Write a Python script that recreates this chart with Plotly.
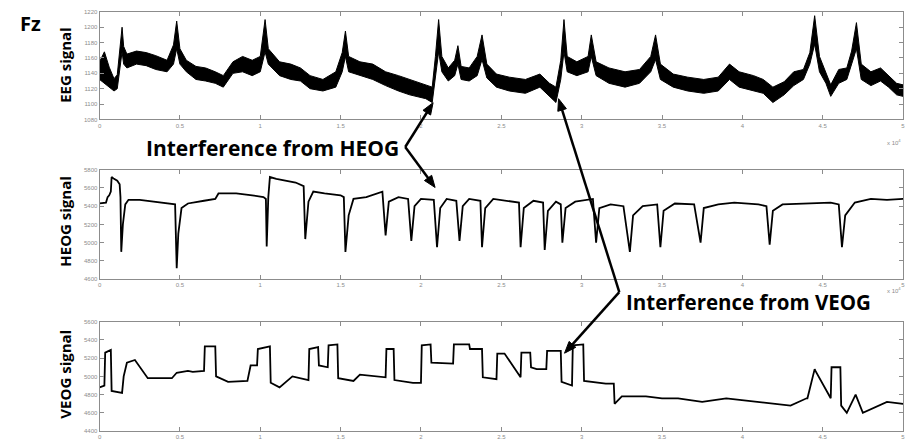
import math
import plotly.graph_objects as go

# ---------------- data (x in units of 1e4 samples) ----------------
eeg_x = [0.00,0.03,0.06,0.09,0.11,0.13,0.14,0.15,0.17,0.23,0.29,0.35,0.42,0.46,0.48,0.50,0.54,0.60,0.66,0.72,0.77,0.83,0.89,0.95,1.00,1.03,1.05,1.12,1.19,1.25,1.31,1.39,1.47,1.51,1.53,1.55,1.62,1.70,1.78,1.86,1.93,2.03,2.07,2.09,2.11,2.13,2.17,2.21,2.23,2.25,2.30,2.35,2.38,2.41,2.47,2.55,2.65,2.74,2.80,2.84,2.87,2.89,2.91,2.97,3.04,3.06,3.09,3.17,3.27,3.36,3.43,3.46,3.49,3.57,3.66,3.76,3.85,3.92,3.98,4.07,4.13,4.19,4.26,4.32,4.38,4.42,4.45,4.48,4.52,4.55,4.60,4.65,4.68,4.71,4.74,4.80,4.86,4.91,4.96,5.00]
eeg_lo = [1132,1127,1122,1117,1120,1152,1168,1152,1147,1152,1150,1145,1142,1152,1172,1152,1142,1132,1130,1127,1122,1140,1142,1137,1142,1168,1152,1137,1132,1130,1120,1117,1122,1142,1162,1142,1137,1132,1124,1117,1112,1107,1102,1132,1168,1142,1130,1137,1152,1132,1130,1137,1158,1134,1122,1117,1114,1122,1110,1102,1132,1168,1142,1137,1142,1162,1137,1127,1122,1127,1142,1158,1132,1122,1117,1114,1117,1132,1122,1117,1114,1102,1112,1124,1132,1152,1178,1142,1127,1110,1127,1132,1152,1172,1132,1124,1130,1122,1112,1110]
eeg_hi = [1155,1168,1148,1133,1138,1183,1200,1175,1165,1169,1167,1163,1157,1177,1208,1172,1157,1149,1147,1142,1137,1155,1162,1157,1162,1210,1172,1155,1152,1147,1137,1132,1142,1167,1195,1162,1155,1152,1142,1137,1132,1125,1122,1162,1210,1162,1147,1157,1176,1149,1147,1162,1190,1152,1139,1135,1132,1139,1127,1122,1157,1210,1162,1155,1162,1190,1155,1147,1142,1145,1162,1190,1152,1139,1135,1132,1135,1152,1142,1137,1132,1122,1129,1142,1145,1167,1215,1162,1142,1125,1145,1147,1169,1206,1152,1142,1147,1137,1127,1125]

heog_x = [0.00,0.04,0.05,0.06,0.07,0.075,0.09,0.11,0.125,0.13,0.135,0.145,0.16,0.18,0.25,0.35,0.45,0.47,0.48,0.49,0.51,0.55,0.65,0.72,0.74,0.85,0.95,1.02,1.035,1.04,1.05,1.06,1.10,1.18,1.22,1.27,1.28,1.30,1.33,1.40,1.50,1.52,1.53,1.55,1.58,1.66,1.73,1.76,1.78,1.80,1.86,1.92,1.94,1.96,2.00,2.08,2.10,2.12,2.16,2.22,2.24,2.26,2.30,2.37,2.38,2.40,2.45,2.52,2.61,2.62,2.64,2.70,2.76,2.77,2.79,2.84,2.87,2.88,2.90,2.96,3.05,3.07,3.09,3.11,3.18,3.26,3.30,3.32,3.38,3.47,3.49,3.51,3.58,3.70,3.74,3.76,3.85,3.95,4.10,4.15,4.17,4.19,4.25,4.40,4.55,4.60,4.62,4.64,4.70,4.80,4.90,5.00]
heog_y = [5430,5440,5500,5520,5560,5720,5700,5680,5640,5500,4900,5200,5420,5470,5470,5450,5430,5420,4720,5100,5380,5430,5460,5480,5540,5540,5520,5500,5480,4960,5500,5720,5700,5670,5660,5620,5040,5450,5560,5540,5520,5500,4900,5300,5480,5500,5540,5560,5080,5450,5500,5480,5020,5400,5480,5470,4950,5380,5480,5460,5020,5400,5480,5460,4950,5380,5480,5460,5440,4950,5380,5460,5440,4920,5350,5450,5420,5000,5380,5450,5480,5480,5000,5380,5420,5400,4900,5300,5400,5420,4950,5350,5430,5420,5000,5380,5420,5440,5420,5400,4980,5350,5420,5430,5440,5420,4950,5300,5440,5480,5470,5480]

veog_x = [0.00,0.03,0.035,0.07,0.075,0.14,0.15,0.17,0.22,0.25,0.28,0.30,0.45,0.48,0.55,0.58,0.65,0.655,0.72,0.725,0.80,0.92,0.94,0.98,0.985,1.06,1.065,1.12,1.20,1.30,1.305,1.36,1.365,1.42,1.425,1.48,1.485,1.58,1.62,1.72,1.78,1.785,1.83,1.835,1.95,2.00,2.005,2.06,2.065,2.20,2.205,2.30,2.305,2.38,2.385,2.47,2.475,2.52,2.62,2.625,2.68,2.685,2.72,2.78,2.785,2.87,2.875,2.94,2.945,3.01,3.015,3.15,3.20,3.205,3.25,3.40,3.50,3.60,3.75,3.90,4.05,4.20,4.30,4.40,4.405,4.45,4.455,4.55,4.555,4.61,4.615,4.65,4.70,4.705,4.75,4.90,5.00]
veog_y = [4880,4900,5260,5290,4840,4820,5000,5150,5180,5100,5020,4980,4980,5040,5060,5050,5060,5330,5330,5000,4940,4950,5120,5120,5300,5330,4930,4880,5000,4960,5300,5320,5120,5100,5340,5350,4980,4950,5020,5000,4990,5300,5300,4960,4930,4930,5340,5350,5150,5140,5350,5350,5300,5300,4990,4970,5250,5250,4990,5260,5260,5100,5080,5080,5280,5280,4940,4900,5340,5350,4950,4920,4920,4700,4780,4780,4760,4760,4720,4760,4730,4700,4680,4760,4760,5080,5060,4760,5100,5100,4680,4600,4780,4800,4600,4720,4700,4680]

tick_vals = [0, 0.5, 1, 1.5, 2, 2.5, 3, 3.5, 4, 4.5, 5]
tick_text = ["0", "0.5", "1", "1.5", "2", "2.5", "3", "3.5", "4", "4.5", "5"]
eeg_ticks = [1080, 1100, 1120, 1140, 1160, 1180, 1200, 1220]
heog_ticks = [4600, 4800, 5000, 5200, 5400, 5600, 5800]
veog_ticks = [4400, 4600, 4800, 5000, 5200, 5400, 5600]

fig = go.Figure()
fig.add_trace(go.Scatter(x=eeg_x, y=eeg_lo, mode="lines", line=dict(color="black", width=1),
                         xaxis="x", yaxis="y", hoverinfo="skip", showlegend=False))
fig.add_trace(go.Scatter(x=eeg_x, y=eeg_hi, mode="lines", line=dict(color="black", width=1),
                         fill="tonexty", fillcolor="black",
                         xaxis="x", yaxis="y", hoverinfo="skip", showlegend=False))
fig.add_trace(go.Scatter(x=heog_x, y=heog_y, mode="lines", line=dict(color="black", width=1.8),
                         xaxis="x2", yaxis="y2", showlegend=False))
fig.add_trace(go.Scatter(x=veog_x, y=veog_y, mode="lines", line=dict(color="black", width=1.8),
                         xaxis="x3", yaxis="y3", showlegend=False))

W, H = 914, 445
xdom = [98 / W, 905 / W]
def ydom(top, bot):
    return [1 - bot / H, 1 - top / H]

axis_common = dict(showline=True, linecolor="#8c8c8c", linewidth=1, mirror="ticks",
                   ticks="inside", ticklen=4, tickcolor="#8c8c8c", showgrid=False,
                   zeroline=False, tickfont=dict(size=6, color="#8c8c8c", family="Arial"))

layout = dict(width=W, height=H, margin=dict(l=0, r=0, t=0, b=0),
              paper_bgcolor="white", plot_bgcolor="white", showlegend=False)
for i, (top, bot, yt, rng) in enumerate([(9, 118, eeg_ticks, [1080, 1220]),
                                         (169, 280, heog_ticks, [4600, 5800]),
                                         (323, 434, veog_ticks, [4400, 5600])]):
    sx = "" if i == 0 else str(i + 1)
    layout["xaxis" + sx] = dict(domain=xdom, range=[0, 5], tickvals=tick_vals, ticktext=tick_text,
                                anchor="y" + sx, **axis_common)
    layout["yaxis" + sx] = dict(domain=ydom(top, bot), range=rng, tickvals=yt,
                                anchor="x" + sx, **axis_common)
fig.update_layout(**layout)

bold = dict(family="Open Sans", color="black")
ann = []
ann.append(dict(text="<b>Fz</b>", x=29 / W, y=1 - 21 / H, font=dict(size=20, **bold)))
for txt, px, py in [("EEG signal", 63, 63), ("HEOG signal", 63, 221), ("VEOG signal", 63, 376)]:
    ann.append(dict(text="<b>%s</b>" % txt, x=px / W, y=1 - py / H, textangle=-90,
                    font=dict(size=15, **bold)))
ann.append(dict(text="<b>Interference from HEOG</b>", x=272 / W, y=1 - 147 / H, font=dict(size=21, **bold)))
ann.append(dict(text="<b>Interference from VEOG</b>", x=750 / W, y=1 - 303 / H, font=dict(size=20.5, **bold)))
for py in (141, 291):
    ann.append(dict(text="x 10<sup>4</sup>", x=896 / W, y=1 - py / H,
                    font=dict(size=6, color="#8c8c8c", family="Arial")))
for a in ann:
    a.update(xref="paper", yref="paper", showarrow=False, xanchor="center", yanchor="middle")
fig.update_layout(annotations=ann)

# arrows drawn as shapes (pixel geometry converted to paper coordinates)
def P(px, py):
    return px / W, 1 - py / H

shapes = []
for hx, hy, tx, ty in [(433, 101, 405, 146), (435, 187, 405, 146), (559, 97, 620, 293), (565, 355, 620, 293)]:
    L = math.hypot(hx - tx, hy - ty)
    dx, dy = (hx - tx) / L, (hy - ty) / L
    bx, by = hx - 12 * dx, hy - 12 * dy
    nx, ny = -dy, dx
    x0, y0 = P(tx, ty)
    x1, y1 = P(bx + 2 * dx, by + 2 * dy)
    shapes.append(dict(type="line", xref="paper", yref="paper", x0=x0, y0=y0, x1=x1, y1=y1,
                       line=dict(color="black", width=2.5)))
    pts = [P(hx, hy), P(bx + 4.5 * nx, by + 4.5 * ny), P(bx - 4.5 * nx, by - 4.5 * ny)]
    path = "M %f,%f L %f,%f L %f,%f Z" % (pts[0][0], pts[0][1], pts[1][0], pts[1][1], pts[2][0], pts[2][1])
    shapes.append(dict(type="path", xref="paper", yref="paper", path=path,
                       fillcolor="black", line=dict(color="black", width=1)))
fig.update_layout(shapes=shapes)

fig.write_html("out.html")
